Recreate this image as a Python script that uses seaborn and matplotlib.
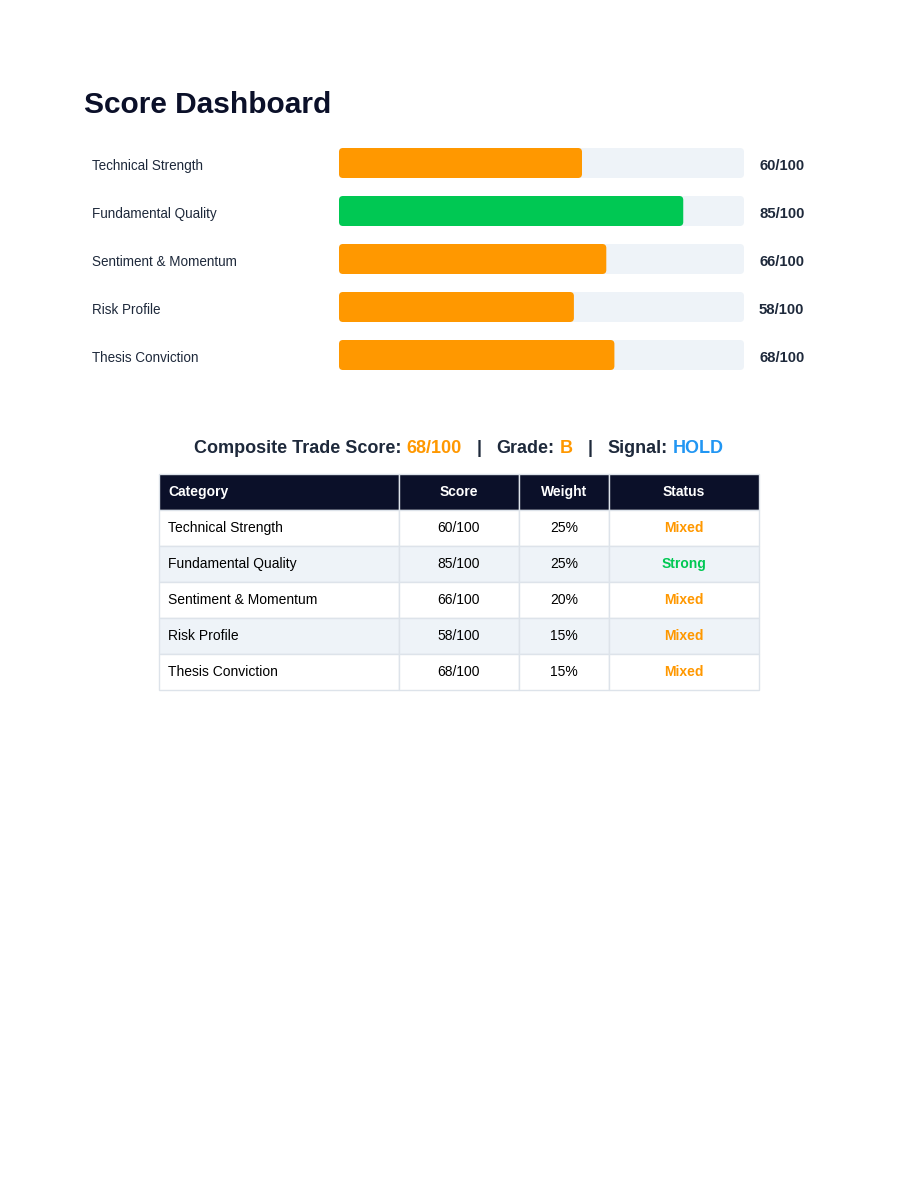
import numpy as np
import pandas as pd
import matplotlib
matplotlib.use('Agg')
import matplotlib.pyplot as plt
import matplotlib.transforms as mtransforms
from matplotlib.patches import FancyBboxPatch, Rectangle
import seaborn as sns

# data
categories = ['Technical Strength', 'Fundamental Quality', 'Sentiment & Momentum',
              'Risk Profile', 'Thesis Conviction']
scores = [60, 85, 66, 58, 68]
weights = ['25%', '25%', '20%', '15%', '15%']
statuses = ['Mixed', 'Strong', 'Mixed', 'Mixed', 'Mixed']
max_score = 100
composite = 68
grade = 'B'
signal = 'HOLD'
header = ['Category', 'Score', 'Weight', 'Status']

status_colors = {'Mixed': '#ff9800', 'Strong': '#00c853'}
dark = '#1e293b'
navy = '#0b1029'
track = '#eef3f8'

sns.set_style('white')
plt.rcParams['font.family'] = ['Liberation Sans', 'DejaVu Sans']

W, H = 918, 1188
fig = plt.figure(figsize=(W / 100, H / 100), dpi=100)
fig.patch.set_facecolor('white')

fig.text(84 / W, 1 - 105 / H, 'Score Dashboard', fontsize=21.5, weight='bold',
         color=navy, va='center', ha='left')

# bar section
ax = fig.add_axes([339 / W, 1 - 379 / H, 405 / W, 240 / H])
df = pd.DataFrame({'category': categories, 'score': scores,
                   'status': statuses, 'max': max_score})
sns.barplot(data=df, x='max', y='category', color=track, width=0.625,
            saturation=1, ax=ax)
sns.barplot(data=df, x='score', y='category', hue='status', palette=status_colors,
            dodge=False, width=0.625, saturation=1, legend=False, ax=ax)
ax.set_xlim(0, max_score)
ax.set_ylim(len(categories) - 0.5, -0.5)
ax.axis('off')

# round the bar corners (~4px)
r = 4 * max_score / 405.
aspect = (1 / 48.) / (max_score / 405.)
rects = [p for p in ax.patches if isinstance(p, Rectangle)]
for p in rects:
    x0, y0, w, h = p.get_x(), p.get_y(), p.get_width(), p.get_height()
    fc = p.get_facecolor()
    p.remove()
    if w <= 0:
        continue
    ax.add_patch(FancyBboxPatch((x0, y0), w, h,
                                boxstyle='round,pad=0,rounding_size={}'.format(r),
                                mutation_aspect=aspect, facecolor=fc,
                                edgecolor='none'))

trans = mtransforms.blended_transform_factory(fig.transFigure, ax.transData)
dy = 3 / 48.  # labels sit a little below the bar centre
for i, (cat, s) in enumerate(zip(categories, scores)):
    ax.text(92 / W, i + dy, cat, transform=trans, va='center', ha='left',
            fontsize=9.75, color=dark)
    ax.text(759 / W, i + dy, '{}/{}'.format(s, max_score), transform=trans,
            va='center', ha='left', fontsize=10.75, weight='bold', color=dark)

# composite line
pieces = [('Composite Trade Score:', dark, 5), ('{}/{}'.format(composite, max_score), '#ff9800', 15),
          ('|', dark, 15), ('Grade:', dark, 5), (grade, '#ff9800', 15),
          ('|', dark, 15), ('Signal:', dark, 5), (signal, '#2196f3', 0)]
fig.canvas.draw()
renderer = fig.canvas.get_renderer()
ty = 1 - 448 / H
texts = []
for s, c, g in pieces:
    t = fig.text(0, ty, s, fontsize=13, weight='bold', color=c,
                 va='center', ha='left')
    texts.append(t)
widths = [t.get_window_extent(renderer).width for t in texts]
total = sum(widths) + sum(g for _, _, g in pieces)
xpos = 459 - total / 2.
for t, wd, (s, c, g) in zip(texts, widths, pieces):
    t.set_x(xpos / W)
    xpos += wd + g

# table
ax2 = fig.add_axes([159 / W, 1 - 690 / H, 600 / W, 216 / H])
ax2.axis('off')
rows = [[c, '{}/{}'.format(s, max_score), w, st]
        for c, s, w, st in zip(categories, scores, weights, statuses)]
tbl = ax2.table(cellText=rows, colLabels=header,
                colWidths=[240 / 600., 120 / 600., 90 / 600., 150 / 600.],
                bbox=[0, 0, 1, 1], cellLoc='center')
tbl.auto_set_font_size(False)
tbl.set_fontsize(10)
for (ri, ci), cell in tbl.get_celld().items():
    cell.set_edgecolor('#dde3ea')
    cell.set_linewidth(1)
    txt = cell.get_text()
    if ri == 0:
        cell.set_facecolor(navy)
        txt.set_color('white')
        txt.set_weight('bold')
    else:
        cell.set_facecolor('white' if ri % 2 == 1 else track)
        txt.set_color('black')
        if ci == 3:
            txt.set_color(status_colors[statuses[ri - 1]])
            txt.set_weight('bold')
    if ci == 0:
        cell._loc = 'left'
        cell.PAD = 9 / 240.
        txt.set_horizontalalignment('left')
    txt.set_y(txt.get_position()[1])

fig.savefig('out.png', dpi=100, facecolor='white')
